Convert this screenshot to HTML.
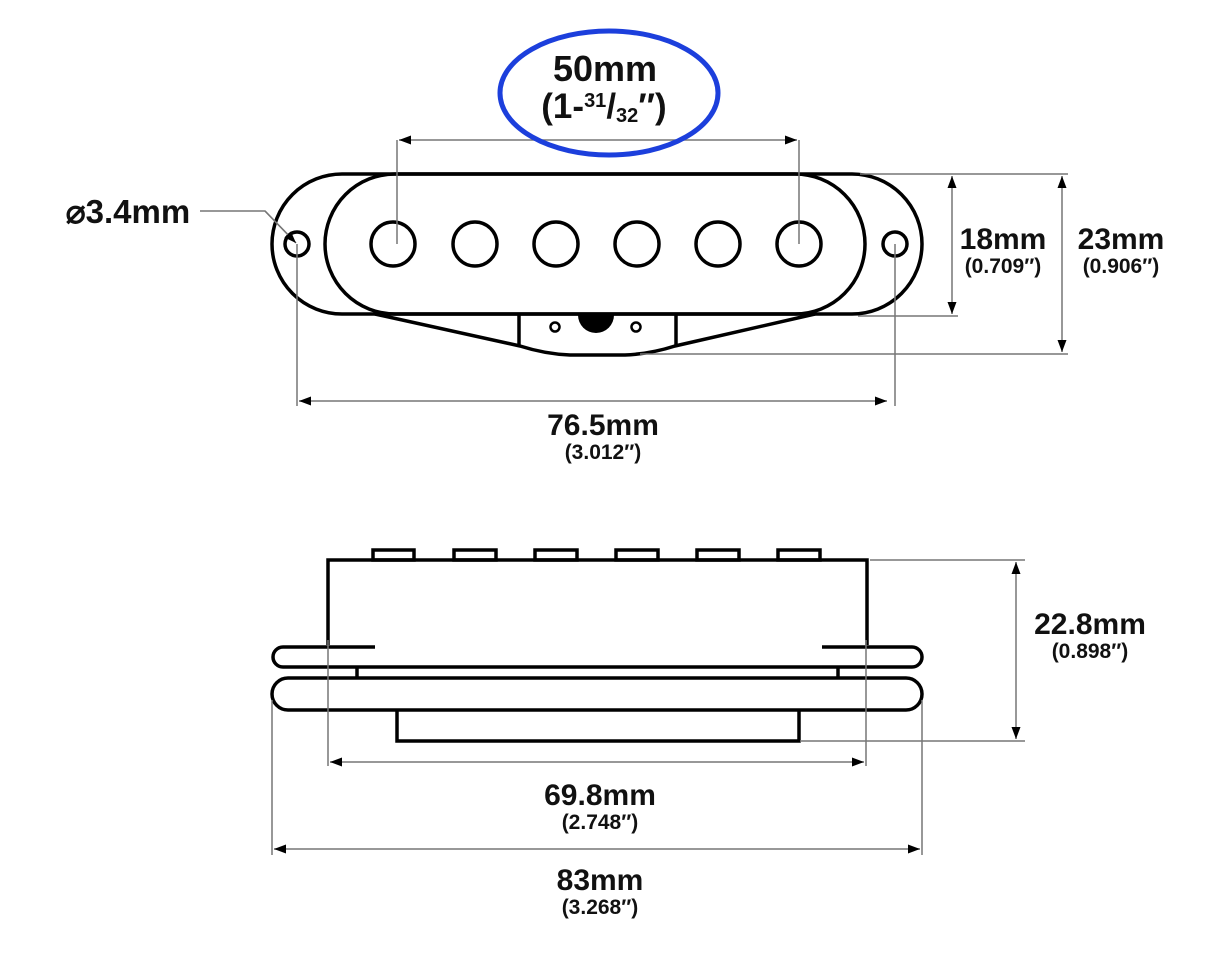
<!DOCTYPE html>
<html><head><meta charset="utf-8"><style>
html,body{margin:0;padding:0;background:#fff;}
svg{display:block;}
text{font-family:"Liberation Sans",Arial,sans-serif;font-weight:bold;fill:#111;text-anchor:middle;}
.b{fill:none;stroke:#000;stroke-width:3.5;}
.g{fill:none;stroke:#777;stroke-width:1.5;}
.L{font-size:30px;}
.S{font-size:21px;}
</style></head><body>
<svg width="1225" height="960" viewBox="0 0 1225 960" xmlns="http://www.w3.org/2000/svg">
<defs>
<marker id="a" viewBox="0 0 12 12" refX="12" refY="6" markerWidth="12" markerHeight="12" orient="auto-start-reverse" markerUnits="userSpaceOnUse"><path d="M0,1.5 L12,6 L0,10.5 z" fill="#000"/></marker>
</defs>

<!-- TOP VIEW -->
<path class="b" d="M342,174 L852,174 A70,70 0 0 1 852,314 L342,314 A70,70 0 0 1 342,174 Z"/>
<path class="b" d="M395,174 L795,174 A70,70 0 0 1 795,314 L395,314 A70,70 0 0 1 395,174 Z" fill="#fff"/>
<circle class="b" cx="297" cy="244" r="12"/>
<circle class="b" cx="895" cy="244" r="12"/>
<g class="b">
<circle cx="393" cy="244" r="22"/><circle cx="475" cy="244" r="22"/><circle cx="556" cy="244" r="22"/>
<circle cx="637" cy="244" r="22"/><circle cx="718" cy="244" r="22"/><circle cx="799" cy="244" r="22"/>
</g>
<path class="b" d="M375,314 L520,346 Q545,354 570,355 L625,355 Q650,354 675,346 L815,314"/>
<path class="b" d="M519,314 L519,346 M676,314 L676,346"/>
<circle cx="555" cy="327" r="4.5" fill="none" stroke="#000" stroke-width="2.5"/>
<circle cx="636" cy="327" r="4.5" fill="none" stroke="#000" stroke-width="2.5"/>
<path d="M578,315 A18,18 0 0 0 614,315 Z" fill="#000"/>

<!-- 50mm -->
<path class="g" d="M397,140 L397,244 M799,140 L799,244"/>
<line class="g" x1="399" y1="140" x2="797" y2="140" marker-start="url(#a)" marker-end="url(#a)"/>
<ellipse cx="609" cy="93" rx="109" ry="62" fill="none" stroke="#1c3fdc" stroke-width="5"/>
<text x="605" y="81" style="font-size:36px">50mm</text>
<text x="604" y="118" style="font-size:35px">(1-<tspan style="font-size:20px" dy="-11">31</tspan><tspan dy="11">/</tspan><tspan style="font-size:20px" dy="4">32</tspan><tspan dy="-4">″)</tspan></text>

<!-- diameter -->
<text x="128" y="223" style="font-size:33px">⌀3.4mm</text>
<path class="g" d="M200,211 L265,211 L294,241"/>
<line class="g" x1="265" y1="211" x2="296" y2="243" marker-end="url(#a)"/>

<!-- right dims -->
<path class="g" d="M860,174 L1068,174 M858,316 L958,316 M640,354 L1068,354"/>
<line class="g" x1="952" y1="176" x2="952" y2="314" marker-start="url(#a)" marker-end="url(#a)"/>
<line class="g" x1="1062" y1="176" x2="1062" y2="352" marker-start="url(#a)" marker-end="url(#a)"/>
<text class="L" x="1003" y="249">18mm</text>
<text class="S" x="1003" y="273">(0.709″)</text>
<text class="L" x="1121" y="249">23mm</text>
<text class="S" x="1121" y="273">(0.906″)</text>

<!-- 76.5 -->
<path class="g" d="M297,244 L297,406 M895,244 L895,406"/>
<line class="g" x1="299" y1="401" x2="887" y2="401" marker-start="url(#a)" marker-end="url(#a)"/>
<text class="L" x="603" y="435">76.5mm</text>
<text class="S" x="603" y="459">(3.012″)</text>

<!-- SIDE VIEW -->
<g class="b">
<rect x="373" y="550" width="41" height="10"/><rect x="454" y="550" width="42" height="10"/>
<rect x="535" y="550" width="42" height="10"/><rect x="616" y="550" width="42" height="10"/>
<rect x="697" y="550" width="42" height="10"/><rect x="778" y="550" width="42" height="10"/>
<path d="M328,645 L328,560 L867,560 L867,645"/>
<path d="M375,647 L283,647 A10,10 0 0 0 283,667 L912,667 A10,10 0 0 0 912,647 L822,647"/>
<path d="M357,667 L357,678 M838,667 L838,678"/>
<path d="M288,678 L906,678 A16,16 0 0 1 906,710 L288,710 A16,16 0 0 1 288,678 Z"/>
<path d="M397,710 L397,741 L799,741 L799,710"/>
</g>

<!-- 22.8 -->
<path class="g" d="M870,560 L1025,560 M800,741 L1025,741"/>
<line class="g" x1="1016" y1="562" x2="1016" y2="739" marker-start="url(#a)" marker-end="url(#a)"/>
<text class="L" x="1090" y="634">22.8mm</text>
<text class="S" x="1090" y="658">(0.898″)</text>

<!-- 69.8 -->
<path class="g" d="M328,640 L328,766 M866,640 L866,766"/>
<line class="g" x1="330" y1="762" x2="864" y2="762" marker-start="url(#a)" marker-end="url(#a)"/>
<text class="L" x="600" y="805">69.8mm</text>
<text class="S" x="600" y="829">(2.748″)</text>

<!-- 83 -->
<path class="g" d="M272,700 L272,855 M922,700 L922,855"/>
<line class="g" x1="274" y1="849" x2="920" y2="849" marker-start="url(#a)" marker-end="url(#a)"/>
<text class="L" x="600" y="890">83mm</text>
<text class="S" x="600" y="914">(3.268″)</text>
</svg>
</body></html>
